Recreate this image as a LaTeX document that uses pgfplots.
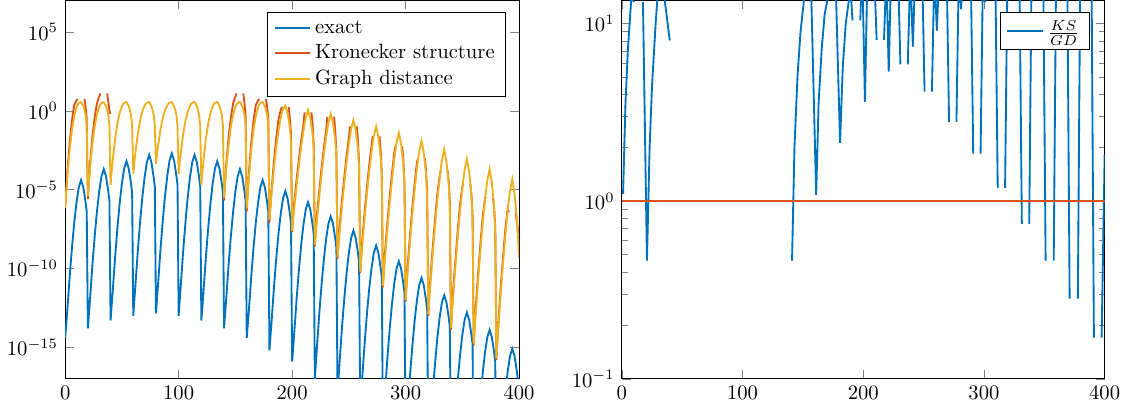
\documentclass[border=0pt]{standalone}
\usepackage{pgfplots}
\usepackage{pgfplotstable}
\pgfplotsset{compat=1.18}
\definecolor{mblue}{rgb}{0,0.447,0.741}
\definecolor{mred}{rgb}{0.85,0.325,0.098}
\definecolor{myellow}{rgb}{0.929,0.694,0.125}
% all y values are log10 of the plotted quantity
\pgfplotstableread{
x y
0 -14.4
2 -12.55
4 -10.49
6 -8.67
8 -7.09
10 -5.81
12 -4.86
14 -4.4
16 -4.86
18 -5.81
19 -6.41
20 -13.8
22 -11.85
24 -9.79
26 -7.97
28 -6.39
30 -5.11
32 -4.16
34 -3.7
36 -4.16
38 -5.11
39 -5.71
40 -13.3
42 -11.35
44 -9.29
46 -7.47
48 -5.89
50 -4.61
52 -3.66
54 -3.2
56 -3.66
58 -4.61
59 -5.21
60 -13.0
62 -10.95
64 -8.89
66 -7.07
68 -5.49
70 -4.21
72 -3.26
74 -2.8
76 -3.26
78 -4.21
79 -4.81
80 -12.85
82 -10.85
84 -8.79
86 -6.97
88 -5.39
90 -4.11
92 -3.16
94 -2.7
96 -3.16
98 -4.11
99 -4.71
100 -13.0
102 -10.95
104 -8.89
106 -7.07
108 -5.49
110 -4.21
112 -3.26
114 -2.8
116 -3.26
118 -4.21
119 -4.81
120 -13.3
122 -11.35
124 -9.29
126 -7.47
128 -5.89
130 -4.61
132 -3.66
134 -3.2
136 -3.66
138 -4.61
139 -5.21
140 -13.8
142 -11.85
144 -9.79
146 -7.97
148 -6.39
150 -5.11
152 -4.16
154 -3.7
156 -4.16
158 -5.11
159 -5.71
160 -14.4
162 -12.55
164 -10.49
166 -8.67
168 -7.09
170 -5.81
172 -4.86
174 -4.4
176 -4.86
178 -5.81
179 -6.41
180 -15.2
182 -13.25
184 -11.19
186 -9.37
188 -7.79
190 -6.51
192 -5.56
194 -5.1
196 -5.56
198 -6.51
199 -7.11
200 -15.9
202 -13.95
204 -11.89
206 -10.07
208 -8.49
210 -7.21
212 -6.26
214 -5.8
216 -6.26
218 -7.21
219 -7.81
220 -17.0
222 -14.85
224 -12.79
226 -10.97
228 -9.39
230 -8.11
232 -7.16
234 -6.7
236 -7.16
238 -8.11
239 -8.71
240 -17.9
242 -15.75
244 -13.69
246 -11.87
248 -10.29
250 -9.01
252 -8.06
254 -7.6
256 -8.06
258 -9.01
259 -9.61
260 -18.85
262 -16.7
264 -14.64
266 -12.82
268 -11.24
270 -9.96
272 -9.01
274 -8.55
276 -9.01
278 -9.96
279 -10.56
280 -19.85
282 -17.7
284 -15.64
286 -13.82
288 -12.24
290 -10.96
292 -10.01
294 -9.55
296 -10.01
298 -10.96
299 -11.56
300 -20.9
302 -18.75
304 -16.69
306 -14.87
308 -13.29
310 -12.01
312 -11.06
314 -10.6
316 -11.06
318 -12.01
319 -12.61
320 -22.0
322 -19.85
324 -17.79
326 -15.97
328 -14.39
330 -13.11
332 -12.16
334 -11.7
336 -12.16
338 -13.11
339 -13.71
340 -23.1
342 -20.95
344 -18.89
346 -17.07
348 -15.49
350 -14.21
352 -13.26
354 -12.8
356 -13.26
358 -14.21
359 -14.81
360 -24.2
362 -22.05
364 -19.99
366 -18.17
368 -16.59
370 -15.31
372 -14.36
374 -13.9
376 -14.36
378 -15.31
379 -15.91
380 -25.4
382 -23.25
384 -21.19
386 -19.37
388 -17.79
390 -16.51
392 -15.56
394 -15.1
396 -15.56
398 -16.51
399 -17.11
400 -26
}\texact
\pgfplotstableread{
x y
0 -6.1
1 -4.96
2 -3.83
4 -1.99
6 -0.60
8 0.37
10 0.65
11 0.75
14 nan
17 0.75
18 0.25
19 -0.5
20 -5.6
21 -4.33
22 -3.31
24 -1.65
26 -0.40
28 0.47
30 0.9
31 1.1
34 nan
37 1.1
38 0.55
39.5 -0.2
90 nan
140 -5.7
141 -4.41
142 -3.38
144 -1.70
146 -0.43
148 0.46
150 0.9
151 1.1
154 nan
157 1.1
158 0.5
159 -0.3
160 -6.4
161 -5.0
162 -3.86
164 -2.01
166 -0.61
168 0.37
170 0.65
171 0.75
174 nan
177 0.75
178 0.25
179 -0.5
180 -7.1
181 -5.9
182 -4.9
184 -3.17
186 -1.72
188 -0.55
190 0.05
191 0.25
194 nan
197 0.25
198 -0.5
199 -1.4
200 -7.7
201 -6.55
202 -5.72
204 -4.32
206 -3.05
208 -1.88
210 -0.87
211 -0.1
214 nan
217 -0.1
218 -0.8
219 -2.15
220 -8.6
221 -7.38
222 -6.49
224 -4.98
226 -3.59
228 -2.33
230 -1.24
231 -0.39
234 nan
237 -0.39
238 -1.27
239 -2.6
240 -9.4
241 -8.14
242 -7.21
244 -5.63
246 -4.18
248 -2.85
250 -1.71
251 -0.99
254 nan
257 -0.99
258 -1.89
259 -3.3
260 -10.3
261 -8.99
262 -8.02
264 -6.34
266 -4.80
268 -3.41
270 -2.19
271 -1.62
274 nan
277 -1.62
278 -2.48
279 -3.9
280 -11.2
281 -9.85
282 -8.82
284 -7.05
286 -5.43
288 -3.96
290 -2.68
291 -2.26
294 nan
297 -2.26
298 -3.07
299 -4.5
300 -12.1
301 -10.7
302 -9.64
304 -7.80
306 -6.12
308 -4.58
310 -3.25
311 -3.0
314 nan
317 -3.0
318 -3.76
319 -5.2
320 -13.0
321 -11.57
322 -10.47
324 -8.57
326 -6.83
328 -5.24
330 -4.16
331 -3.79
334 nan
337 -3.79
338 -4.51
339 -5.85
340 -13.9
341 -12.44
342 -11.31
344 -9.36
346 -7.56
348 -5.93
350 -4.81
351 -4.64
354 nan
357 -4.64
358 -5.32
359 -6.55
360 -14.9
361 -13.41
362 -12.25
364 -10.23
366 -8.37
368 -6.69
370 -5.52
371 -5.54
374 nan
377 -5.54
378 -6.17
379 -7.3
380 -15.8
381 -14.28
382 -13.1
384 -11.03
386 -9.14
388 -7.41
390 -6.21
391 -6.44
394 nan
397 -6.44
398 -7.03
399 -7.5
400 -7.75
}\tkron
\pgfplotstableread{
x y
0 -6.15
1 -5.06
2 -4.08
4 -2.44
6 -1.20
8 -0.33
10 0.22
11 0.38
12 0.49
14 0.55
16 0.30
17 0.05
18 -0.25
19 -0.95
20 -5.4
21 -4.43
22 -3.56
24 -2.10
26 -1.00
28 -0.23
30 0.25
31 0.40
32 0.50
34 0.55
36 0.30
37 0.05
38 -0.25
39 -0.95
40 -4.7
41 -3.84
42 -3.08
44 -1.79
46 -0.82
48 -0.14
50 0.29
51 0.42
52 0.50
54 0.55
56 0.30
57 0.05
58 -0.25
59 -0.95
60 -4.0
61 -3.26
62 -2.59
64 -1.48
66 -0.64
68 -0.05
70 0.32
71 0.44
72 0.51
74 0.55
76 0.30
77 0.05
78 -0.25
79 -0.95
80 -3.36
81 -2.72
82 -2.15
84 -1.19
86 -0.47
88 0.04
90 0.35
91 0.45
92 0.51
94 0.55
96 0.30
97 0.05
98 -0.25
99 -0.95
100 -4.0
101 -3.26
102 -2.59
104 -1.48
106 -0.64
108 -0.05
110 0.32
111 0.44
112 0.51
114 0.55
116 0.30
117 0.05
118 -0.25
119 -0.95
120 -4.7
121 -3.84
122 -3.08
124 -1.79
126 -0.82
128 -0.14
130 0.29
131 0.42
132 0.50
134 0.55
136 0.30
137 0.05
138 -0.25
139 -0.95
140 -5.5
141 -4.51
142 -3.63
144 -2.15
146 -1.03
148 -0.24
150 0.25
151 0.40
152 0.50
154 0.55
156 0.30
157 0.05
158 -0.25
159 -0.95
160 -6.2
161 -5.10
162 -4.11
164 -2.46
166 -1.21
168 -0.33
170 0.21
171 0.38
172 0.49
174 0.55
176 0.30
177 0.05
178 -0.25
179 -0.95
180 -6.9
181 -6.00
182 -5.15
184 -3.62
186 -2.32
188 -1.25
190 -0.44
191 -0.13
192 0.10
194 0.32
196 -0.13
197 -0.58
198 -1.08
199 -1.98
200 -7.6
201 -6.85
202 -6.12
204 -4.72
206 -3.45
208 -2.28
210 -1.27
211 -0.84
212 -0.45
214 0.05
216 -0.45
217 -0.95
218 -1.45
219 -2.45
220 -8.5
221 -7.68
222 -6.89
224 -5.38
226 -3.99
228 -2.73
230 -1.64
231 -1.16
232 -0.75
234 -0.2
236 -0.75
237 -1.3
238 -1.85
239 -2.9
240 -9.3
241 -8.44
242 -7.61
244 -6.03
246 -4.58
248 -3.25
250 -2.11
251 -1.61
252 -1.17
254 -0.6
256 -1.2
257 -1.8
258 -2.4
259 -3.6
260 -10.2
261 -9.29
262 -8.42
264 -6.74
266 -5.20
268 -3.81
270 -2.59
271 -2.07
272 -1.61
274 -1.0
276 -1.65
277 -2.3
278 -2.9
279 -4.2
280 -11.1
281 -10.15
282 -9.22
284 -7.45
286 -5.83
288 -4.36
290 -3.08
291 -2.53
292 -2.04
294 -1.4
296 -2.1
297 -2.75
298 -3.4
299 -4.8
300 -12.0
301 -11.0
302 -10.04
304 -8.20
306 -6.52
308 -4.98
310 -3.65
311 -3.07
312 -2.57
314 -1.9
316 -2.65
317 -3.3
318 -4.0
319 -5.5
320 -12.9
321 -11.87
322 -10.87
324 -8.97
326 -7.23
328 -5.64
330 -4.26
331 -3.66
332 -3.14
334 -2.45
336 -3.25
337 -3.95
338 -4.65
339 -6.15
340 -13.8
341 -12.74
342 -11.71
344 -9.76
346 -7.96
348 -6.33
350 -4.91
351 -4.30
352 -3.76
354 -3.05
356 -3.85
357 -4.6
358 -5.35
359 -6.85
360 -14.8
361 -13.71
362 -12.65
364 -10.63
366 -8.77
368 -7.09
370 -5.62
371 -4.99
372 -4.43
374 -3.7
376 -4.55
377 -5.3
378 -6.1
379 -7.6
380 -15.7
381 -14.58
382 -13.50
384 -11.43
386 -9.54
388 -7.81
390 -6.31
391 -5.67
392 -5.10
394 -4.35
396 -5.25
397 -6.0
398 -6.85
399 -8.0
400 -9.3
}\tgraph
\pgfplotstableread{
x y
1 0.04
3 0.55
5 0.85
8 1.16
10 1.12
12 nan
17.5 1.12
20.8 -0.335
23 0.3
25 0.65
28 1.0
29.5 1.14
32 1.2
35 1.16
39.7 0.904
90 nan
141 -0.335
143 0.3
145.5 0.7
148 0.95
151 1.14
154 1.2
157 1.14
161 0.036
163 0.55
165.5 0.85
168 1.05
170.5 1.14
173 nan
177.5 1.14
180.8 0.328
183 0.75
185.5 1.0
188.3 1.14
189.5 1.2
191.1 1.017
194 nan
197.5 1.017
199.2 1.3
201.4 0.559
203.5 1.3
209 1.3
211.1 0.908
214 nan
217.2 0.908
219.2 1.3
221.1 0.729
223.1 1.3
228.8 1.3
230.8 0.770
234 nan
236.9 0.770
239 1.3
241.1 0.87
243.1 1.3
248.8 1.3
250.8 0.616
254 nan
256.9 0.616
258.9 1.3
261 0.96
263 1.3
269.1 1.3
271.1 0.446
274 nan
277.2 0.446
279.2 1.3
281 1.08
283 1.3
289.1 1.3
291.1 0.267
294 nan
297.2 0.267
299.2 1.3
301 1.12
303 1.3
309.4 1.3
311.4 0.073
314 nan
317.5 0.073
319.5 1.3
329.4 1.3
331.4 -0.128
334 nan
337.5 -0.128
339.5 1.3
349.1 1.3
351.1 -0.335
354 nan
357.8 -0.335
359.8 1.3
369 1.3
371 -0.548
374 nan
377.8 -0.548
379.8 1.3
389.1 1.3
391.1 -0.768
394 nan
397.5 -0.768
400 0.26
}\tratio
\begin{document}
\begin{tikzpicture}
\begin{axis}[
  scale only axis, width=220pt, height=183.4pt,
  xmin=0, xmax=400, ymin=-17, ymax=7,
  xtick={0,100,200,300,400},
  ytick={-15,-10,-5,0,5},
  yticklabels={$10^{-15}$,$10^{-10}$,$10^{-5}$,$10^{0}$,$10^{5}$},
  unbounded coords=jump,
  legend pos=north east, legend cell align=left,
  legend style={draw=black},
]
\addplot[mblue, line width=0.9pt] table[x=x,y=y] {\texact};
\addlegendentry{exact}
\addplot[mred, line width=0.9pt] table[x=x,y=y] {\tkron};
\addlegendentry{Kronecker structure}
\addplot[myellow, line width=0.9pt] table[x=x,y=y] {\tgraph};
\addlegendentry{Graph distance}
\end{axis}
\begin{axis}[
  at={(269.8pt,0pt)},
  scale only axis, width=234pt, height=183.4pt,
  xmin=0, xmax=400, ymin=-1, ymax=1.13,
  xtick={0,100,200,300,400},
  ytick={-1,0,1},
  yticklabels={$10^{-1}$,$10^{0}$,$10^{1}$},
  minor ytick={-0.699,-0.523,-0.398,-0.301,-0.222,-0.155,-0.097,-0.046,0.301,0.477,0.602,0.699,0.778,0.845,0.903,0.954},
  unbounded coords=jump,
  legend pos=north east, legend cell align=left,
  legend style={draw=black},
]
\addplot[mblue, line width=0.9pt] table[x=x,y=y] {\tratio};
\addlegendentry{$\frac{KS}{GD}$}
\addplot[mred, line width=0.9pt, forget plot] coordinates {(0,0) (400,0)};
\end{axis}
\end{tikzpicture}
\end{document}
